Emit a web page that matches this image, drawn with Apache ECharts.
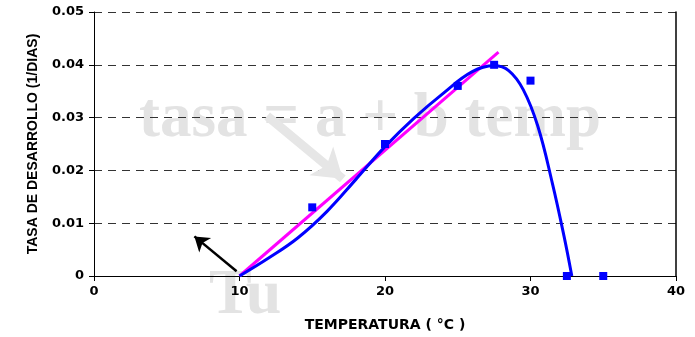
<!DOCTYPE html>
<html>
<head>
<meta charset="utf-8">
<script src="https://cdn.jsdelivr.net/npm/echarts@6/dist/echarts.min.js"></script>
<style>
  html, body { margin: 0; padding: 0; background: #fff; }
  #chart { width: 695px; height: 337px; }
</style>
</head>
<body>
<div id="chart"></div>
<script>
// observed development rates (squares)
const obsTemp = [15, 20, 25, 27.5, 30, 32.5, 35];
const obsRate = [0.013, 0.025, 0.036, 0.040, 0.037, 0, 0];

// fitted non-linear curve (blue)
const curveTemp = [10, 12, 14, 16, 18, 20, 22, 24, 26, 27.5, 28.5, 29.5, 30.5, 31.5, 32.3, 32.84];
const curveRate = [0, 0.0034, 0.0072, 0.0122, 0.0183, 0.0245, 0.0299, 0.0346, 0.0387, 0.0398, 0.0389, 0.0353, 0.0284, 0.0176, 0.0076, 0];

// linear model (magenta)
const lineTemp = [10, 27.8];
const lineRate = [0, 0.0424];

// axis ticks
const xTicks = [0, 10, 20, 30, 40];
const yTicks = [0, 0.01, 0.02, 0.03, 0.04, 0.05];

const zip = (a, b) => a.map((v, i) => [v, b[i]]);

let myChart = echarts.init(document.getElementById('chart'));
// the original text is a bit stretched sideways, DejaVu bold is close in width
const tickFont = { color: '#000', fontFamily: 'DejaVu Sans', fontWeight: 'bold', fontSize: 13 };

myChart.setOption({
  animation: false,
  grid: { left: 94, right: 19, top: 12, bottom: 59 },
  xAxis: {
    type: 'value',
    min: xTicks[0],
    max: xTicks[xTicks.length - 1],
    interval: 10,
    name: 'TEMPERATURA ( °C )',
    nameLocation: 'middle',
    nameGap: 42,
    nameTextStyle: { color: '#000', fontFamily: 'DejaVu Sans', fontWeight: 'bold', fontSize: 14 },
    axisLine: { lineStyle: { color: '#000', width: 1 } },
    axisTick: { length: 5, lineStyle: { color: '#000' } },
    axisLabel: Object.assign({ margin: 9 }, tickFont),
    splitLine: { show: false }
  },
  yAxis: [{
    type: 'value',
    min: yTicks[0],
    max: yTicks[yTicks.length - 1],
    interval: 0.01,
    name: 'TASA DE DESARROLLO (1/DIAS)',
    nameLocation: 'middle',
    nameGap: 54,
    nameTextStyle: { color: '#000', fontFamily: 'Liberation Sans', fontWeight: 'bold', fontSize: 14 },
    axisLine: { show: true, lineStyle: { color: '#000', width: 1 } },
    axisTick: { show: true, length: 5, lineStyle: { color: '#000' } },
    axisLabel: Object.assign({ margin: 10, formatter: v => v === 0 ? '0' : v.toFixed(2) }, tickFont),
    splitLine: { show: true, lineStyle: { color: '#333', type: [8, 6], width: 1 } }
  }, {
    // right border only
    type: 'value',
    position: 'right',
    min: 0,
    max: 0.05,
    axisLine: { show: true, lineStyle: { color: '#000', width: 1.5 } },
    axisTick: { show: false },
    axisLabel: { show: false },
    splitLine: { show: false }
  }],
  graphic: [
    {
      type: 'text',
      left: 139,
      top: 88,
      z: -10,
      style: {
        text: 'tasa = a + b temp',
        fill: '#e3e3e3',
        font: 'bold 63px "Liberation Serif", "Times New Roman", serif'
      }
    },
    {
      type: 'text',
      left: 209,
      top: 264,
      z: -10,
      style: {
        text: 'Tu',
        fill: '#e3e3e3',
        font: 'bold 64px "Liberation Serif", "Times New Roman", serif'
      }
    }
  ],
  series: [
    {
      name: 'lineal',
      type: 'line',
      data: zip(lineTemp, lineRate),
      symbol: 'none',
      lineStyle: { color: '#ff00ff', width: 3 },
      z: 3
    },
    {
      name: 'curva',
      type: 'line',
      data: zip(curveTemp, curveRate),
      smooth: 0.4,
      symbol: 'none',
      lineStyle: { color: '#0000ff', width: 3 },
      z: 4
    },
    {
      name: 'observado',
      type: 'scatter',
      data: zip(obsTemp, obsRate),
      symbol: 'rect',
      symbolSize: 8,
      itemStyle: { color: '#0000ff', opacity: 1 },
      z: 5
    },
    {
      // grey arrow pointing to the linear part
      type: 'line',
      data: [],
      z: 1,
      markLine: {
        silent: true,
        symbol: ['none', 'arrow'],
        symbolSize: 28,
        label: { show: false },
        lineStyle: { color: '#e6e6e6', width: 9, type: 'solid' },
        data: [[{ coord: [11.9, 0.0303] }, { coord: [17.1, 0.0184] }]]
      }
    },
    {
      // black arrow at the lower threshold
      type: 'line',
      data: [],
      z: 6,
      markLine: {
        silent: true,
        symbol: ['none', 'arrow'],
        symbolSize: 14,
        label: { show: false },
        lineStyle: { color: '#000', width: 2.5, type: 'solid' },
        data: [[{ coord: [9.8, 0.0009] }, { coord: [6.9, 0.0075] }]]
      }
    }
  ]
});
</script>
</body>
</html>
